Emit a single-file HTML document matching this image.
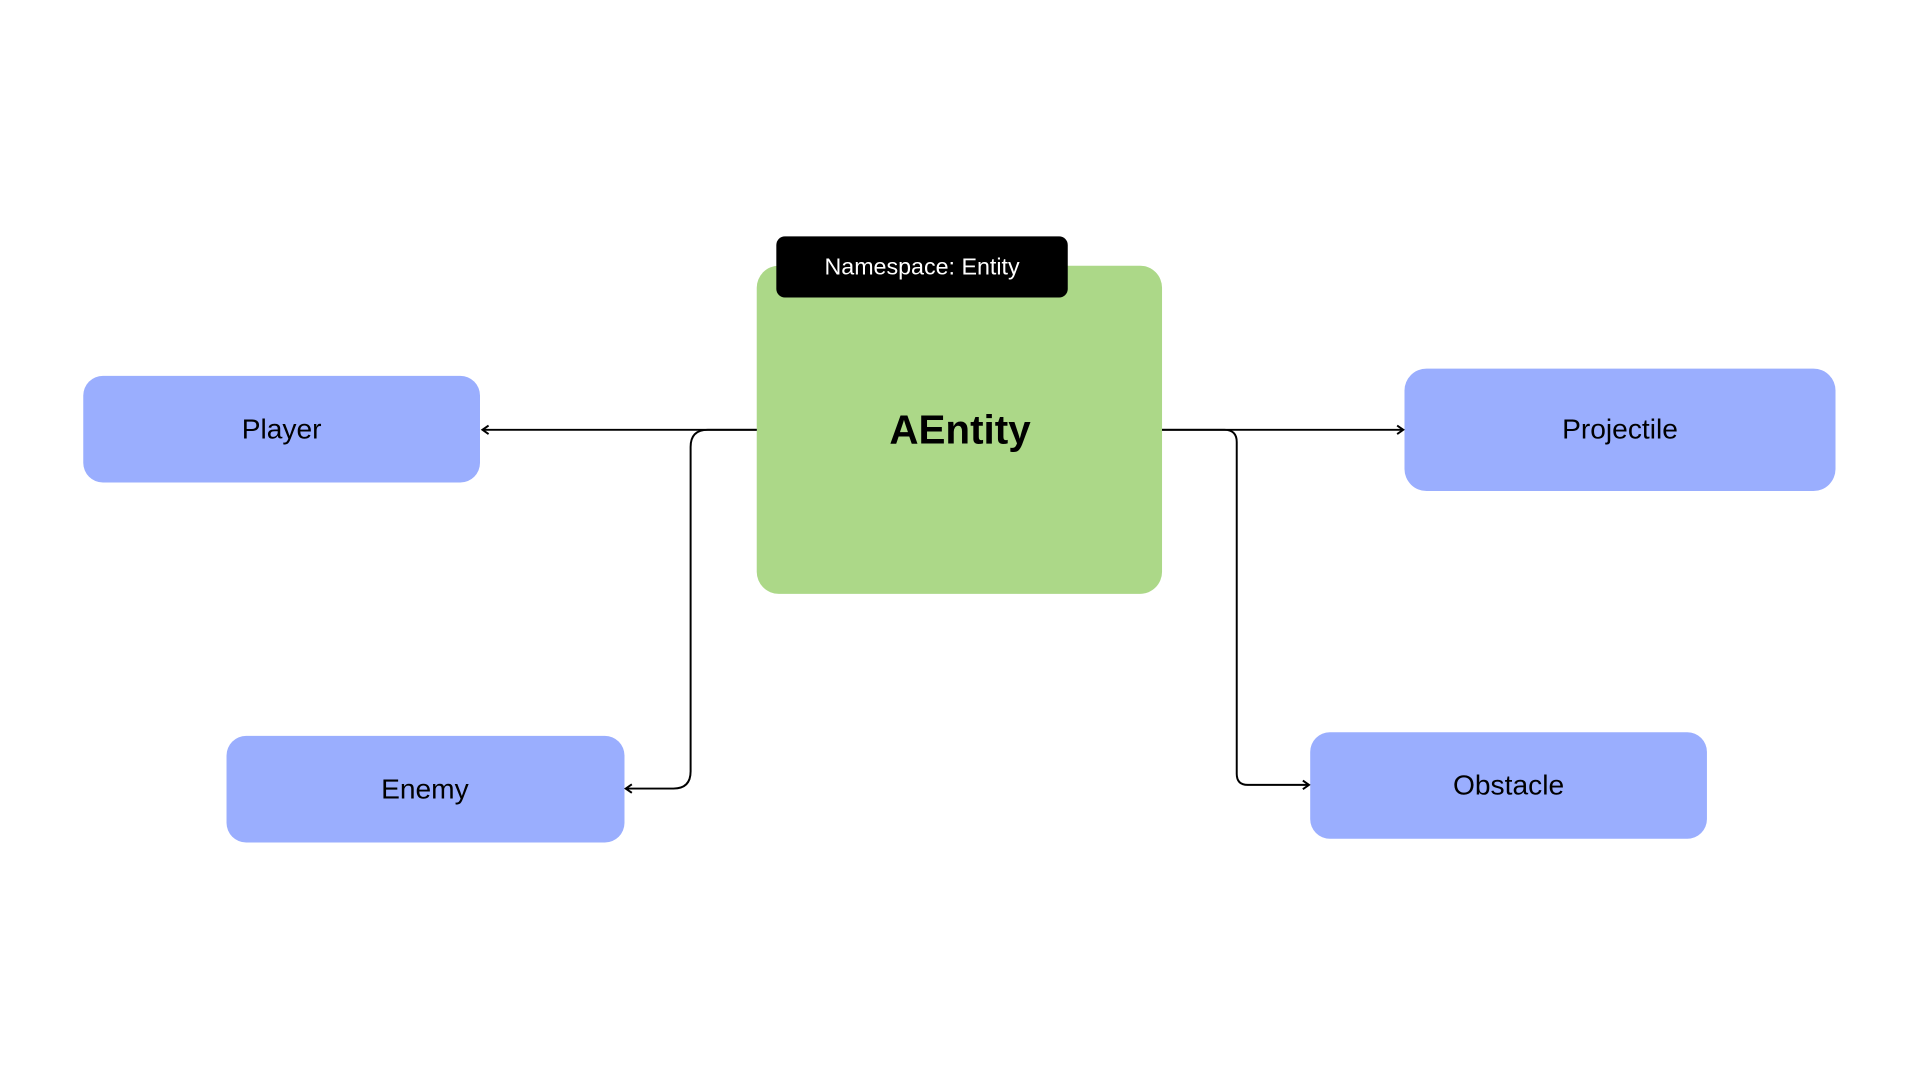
<!DOCTYPE html>
<html><head><meta charset="utf-8"><style>
html,body{margin:0;padding:0;background:#fff;}
svg{display:block;}
text{font-family:"Liberation Sans",sans-serif;}
</style></head><body>
<svg width="1920" height="1080" viewBox="0 0 1568 882" xmlns="http://www.w3.org/2000/svg">
<defs>
<marker id="a" markerWidth="10" markerHeight="10" refX="7" refY="5" orient="auto" markerUnits="userSpaceOnUse">
<path d="M2,1.5 L7,5 L2,8.5" fill="none" stroke="#000" stroke-width="1.6"/>
</marker>
</defs>
<rect x="618" y="217" width="331" height="268" rx="18" fill="#acd888"/>
<rect x="634" y="193" width="238" height="50" rx="7" fill="#000"/>
<text x="753" y="224" text-anchor="middle" font-size="19" fill="#fff">Namespace: Entity</text>
<text x="784" y="362" text-anchor="middle" font-size="33" font-weight="bold" fill="#000">AEntity</text>

<rect x="68" y="307" width="324" height="87" rx="16" fill="#9aaefe"/>
<text x="230" y="358" text-anchor="middle" font-size="23" fill="#000">Player</text>
<rect x="1147" y="301" width="352" height="100" rx="18" fill="#9aaefe"/>
<text x="1323" y="358" text-anchor="middle" font-size="23" fill="#000">Projectile</text>
<rect x="185" y="601" width="325" height="87" rx="16" fill="#9aaefe"/>
<text x="347" y="652" text-anchor="middle" font-size="23" fill="#000">Enemy</text>
<rect x="1070" y="598" width="324" height="87" rx="16" fill="#9aaefe"/>
<text x="1232" y="649" text-anchor="middle" font-size="23" fill="#000">Obstacle</text>

<g fill="none" stroke="#000" stroke-width="1.6">
<path d="M618,351 L394,351" marker-end="url(#a)"/>
<path d="M618,351 L578,351 Q564,351 564,365 L564,630 Q564,644 550,644 L511,644" marker-end="url(#a)"/>
<path d="M949,351 L1146,351" marker-end="url(#a)"/>
<path d="M949,351 L1000,351 Q1010,351 1010,361 L1010,632 Q1010,641 1019,641 L1069,641" marker-end="url(#a)"/>
</g>
</svg>
</body></html>
